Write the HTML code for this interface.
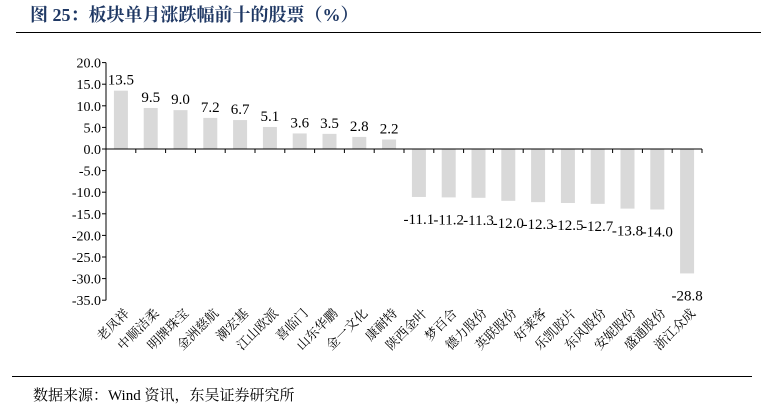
<!DOCTYPE html>
<html><head><meta charset="utf-8"><style>
body{margin:0;background:#fff;width:761px;height:412px;overflow:hidden}
svg{display:block}
</style></head><body>
<svg width="761" height="412" xmlns="http://www.w3.org/2000/svg">
<text x="30" y="21" font-family="'Liberation Serif','Noto Serif CJK SC',serif" font-size="18" font-weight="bold" fill="#1f3864">图 25：板块单月涨跌幅前十的股票（%）</text>
<line x1="16" y1="32.5" x2="761" y2="32.5" stroke="#000" stroke-width="1"/>
<g id="chart"></g>
<line x1="12" y1="376.5" x2="752" y2="376.5" stroke="#000" stroke-width="1"/>
<text x="33" y="400" font-family="'Liberation Serif','Noto Serif CJK SC',serif" font-size="15" fill="#000">数据来源：Wind 资讯，东吴证券研究所</text>
</svg>
<script>
const vals=[13.5,9.5,9.0,7.2,6.7,5.1,3.6,3.5,2.8,2.2,-11.1,-11.2,-11.3,-12.0,-12.3,-12.5,-12.7,-13.8,-14.0,-28.8];
const names=["老凤祥","中顺洁柔","明牌珠宝","金洲慈航","潮宏基","江山欧派","喜临门","山东华鹏","金一文化","康耐特","陕西金叶","梦百合","德力股份","英联股份","好莱客","乐凯胶片","东风股份","安妮股份","盛通股份","浙江众成"];
const y0=149,k=4.32,x0=106,sp=29.8;
let s='';
const F="font-family=\"'Liberation Serif','Noto Serif CJK SC',serif\"";
for(let v=20;v>=-35;v-=5){const y=y0-v*k;s+=`<text x="101" y="${y+5}" text-anchor="end" ${F} font-size="14">${v.toFixed(1)}</text><line x1="102" y1="${y}" x2="106" y2="${y}" stroke="#000"/>`;}
s+=`<line x1="${x0}" y1="${y0-20*k}" x2="${x0}" y2="${y0+35*k}" stroke="#000"/>`;
vals.forEach((v,i)=>{const c=x0+sp*(i+0.5);const h=Math.abs(v)*k;const y=v>0?y0-h:y0;
s+=`<rect x="${c-7}" y="${y}" width="14" height="${h}" fill="#d9d9d9"/>`;
const ly=v>0?y0-h-6:y0+h+27;
s+=`<text x="${c}" y="${ly}" text-anchor="middle" ${F} font-size="15">${v.toFixed(1)}</text>`;
s+=`<text transform="translate(${c+9},314) rotate(-45)" text-anchor="end" ${F} font-size="13">${names[i]}</text>`;});
s+=`<line x1="${x0}" y1="${y0}" x2="${x0+sp*20}" y2="${y0}" stroke="#000"/>`;
for(let i=0;i<=20;i++){const x=x0+sp*i;s+=`<line x1="${x}" y1="${y0}" x2="${x}" y2="${y0+4}" stroke="#000"/>`;}
document.getElementById('chart').innerHTML=s;
</script>
</body></html>
